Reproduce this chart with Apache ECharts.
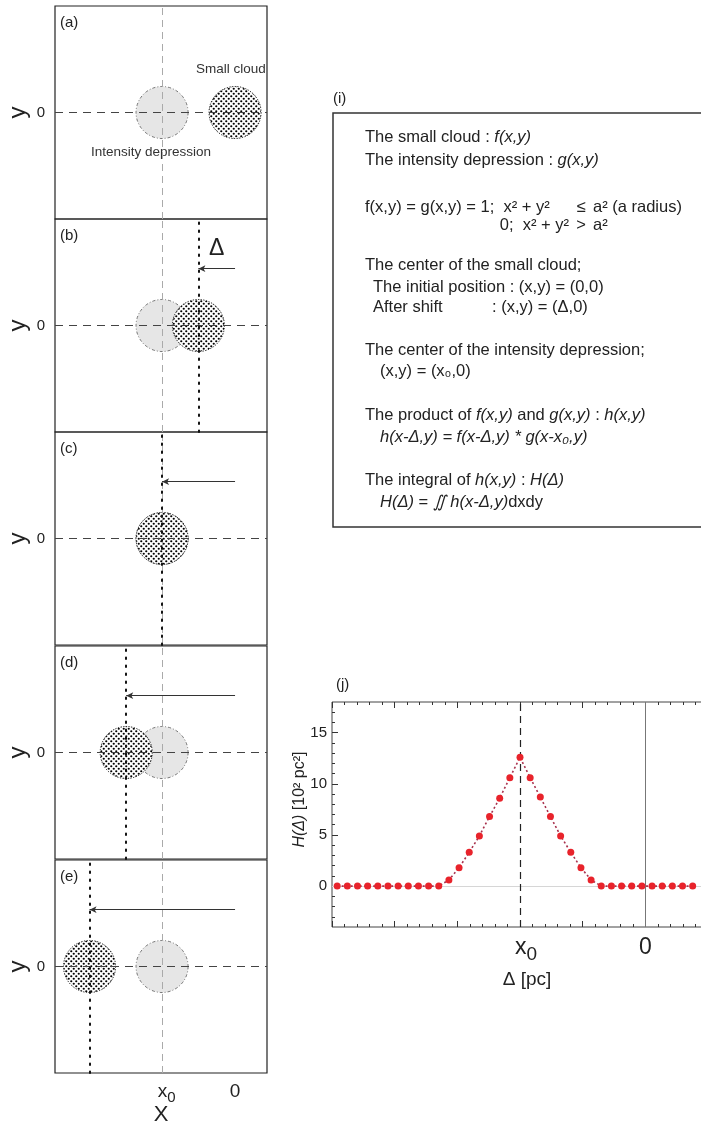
<!DOCTYPE html>
<html><head><meta charset="utf-8">
<script src="https://cdn.jsdelivr.net/npm/echarts@6/dist/echarts.min.js"></script>
<style>html,body{margin:0;padding:0;background:#fff}#c{width:701px;height:1127px}</style>
</head><body><div id="c"></div>
<script>
// ---------------- data ----------------
const panelLabels = ['(a)', '(b)', '(c)', '(d)', '(e)'];
const x0 = -61.7;                               // centre of the intensity depression [pc]
const cloudRadius = 22;                         // schematic radius of both discs [pc]
const cloudShift = [0, -31, -61.7, -92, -123];  // centre of the small cloud in panels a-e [pc]
const arrowLevel = 48;                          // height of the shift arrow [pc]
// panel (j): shift relative to x0 [pc] and H(Δ) [10^2 pc^2]
const deltaOffset = [-90, -85, -80, -75, -70, -65, -60, -55, -50, -45, -40, -35, -30, -25, -20, -15, -10, -5,
                     0, 5, 10, 15, 20, 25, 30, 35, 40, 45, 50, 55, 60, 65, 70, 75, 80, 85];
const hValues = [0, 0, 0, 0, 0, 0, 0, 0, 0, 0, 0, 0.6, 1.8, 3.3, 4.9, 6.8, 8.6, 10.6,
                 12.6, 10.6, 8.7, 6.8, 4.9, 3.3, 1.8, 0.6, 0, 0, 0, 0, 0, 0, 0, 0, 0, 0];
const hYTicks = [0, 5, 10, 15];
const hYMinorTicks = [-3, -2, -1, 1, 2, 3, 4, 6, 7, 8, 9, 11, 12, 13, 14, 16, 17];
const xTickLabels = {x0: 'x', sub: '0', zero: '0'};

// ---------------- styling helpers ----------------
const FF = "'Liberation Sans', Arial, sans-serif";
const INK = '#222';
function dotPattern() {
  const c = document.createElement('canvas');
  c.width = 5; c.height = 5;
  const g = c.getContext('2d');
  g.fillStyle = '#fff'; g.fillRect(0, 0, 5, 5);
  g.fillStyle = '#000';
  [[1.25, 1.25], [3.75, 3.75]].forEach(p => { g.beginPath(); g.arc(p[0], p[1], 1.1, 0, Math.PI * 2); g.fill(); });
  return c;
}
const PAT = dotPattern();

const panelTops = [6, 219, 432, 646, 860];
const grids = [], xAxes = [], yAxes = [], series = [], graphics = [];

function x0Formatter(v) {
  if (Math.abs(v - x0) < 0.05) return '{p|}{x|' + xTickLabels.x0 + '}{s|' + xTickLabels.sub + '}';
  if (Math.abs(v) < 0.05) return '{x|' + xTickLabels.zero + '}';
  return '';
}
const noLine = {show: false, onZero: false};

panelTops.forEach((top, i) => {
  grids.push({left: 55, top: top, width: 212, height: 213, show: true, borderColor: INK, borderWidth: 1.2,
    backgroundColor: 'transparent', outerBoundsMode: 'none', containLabel: false});
  const last = i === panelTops.length - 1;
  xAxes.push({
    gridIndex: i, type: 'value', min: -152.2, max: 27,
    axisLine: noLine, axisTick: {show: false}, splitLine: {show: false},
    axisLabel: last ? {
      show: true, customValues: [x0, 0], formatter: x0Formatter, margin: 9, color: INK,
      rich: {
        p: {width: 9, fontSize: 15, lineHeight: 20, verticalAlign: 'top'},
        x: {fontSize: 19, fontFamily: FF, color: INK, verticalAlign: 'top', lineHeight: 20},
        s: {fontSize: 15, fontFamily: FF, color: INK, verticalAlign: 'top', padding: [8, 0, 0, 0], lineHeight: 16}
      }
    } : {show: false},
    name: last ? 'X' : '', nameLocation: 'middle', nameGap: 31, nameMoveOverlap: false,
    nameTextStyle: {fontSize: 22, fontFamily: FF, color: INK}
  });
  yAxes.push({
    gridIndex: i, type: 'value', min: -90, max: 90, interval: 90,
    axisLine: noLine, axisTick: {show: false}, splitLine: {show: false},
    axisLabel: {formatter: v => (v === 0 ? '0' : ''), fontSize: 15, fontFamily: FF, color: INK, margin: 10},
    name: 'y', nameLocation: 'middle', nameRotate: 90, nameGap: 25, nameMoveOverlap: false,
    nameTextStyle: {fontSize: 24, fontFamily: FF, color: INK}
  });
  // discs
  series.push({
    type: 'custom', xAxisIndex: i, yAxisIndex: i, z: 2, silent: true,
    data: [[x0, 0, cloudRadius, 0], [cloudShift[i], 0, cloudRadius, 1]],
    renderItem: function (params, api) {
      const c = api.coord([api.value(0), api.value(1)]);
      const r = api.size([api.value(2), 0])[0];
      const cloud = api.value(3) === 1;
      return {
        type: 'circle', shape: {cx: c[0], cy: c[1], r: r},
        style: cloud
          ? {fill: {image: PAT, repeat: 'repeat'}, stroke: '#111', lineWidth: 1, lineDash: [1.2, 1.5]}
          : {fill: '#e6e6e6', stroke: '#555', lineWidth: 0.8, lineDash: [3, 2, 1, 2]}
      };
    }
  });
  // cross-hair lines
  series.push({
    type: 'line', xAxisIndex: i, yAxisIndex: i, z: 3, data: [[x0, 0]], symbol: 'none', silent: true,
    lineStyle: {width: 0},
    markLine: {
      silent: true, symbol: ['none', 'none'], animation: false, label: {show: false},
      data: [
        {yAxis: 0, lineStyle: {color: '#444', type: [8, 6], width: 1.2}},
        {xAxis: x0, lineStyle: {color: '#aaa', type: [7, 5], width: 1}}
      ]
    }
  });
  if (i > 0) {
    // dotted line through the small cloud centre
    series.push({
      type: 'line', xAxisIndex: i, yAxisIndex: i, z: 4, data: [[cloudShift[i], 0]], symbol: 'none', silent: true,
      lineStyle: {width: 0},
      markLine: {
        silent: true, animation: false, label: {show: false}, symbol: ['none', 'none'],
        data: [{xAxis: cloudShift[i], lineStyle: {color: '#111', type: [1.6, 6.4], width: 2, cap: 'round'}}]
      }
    });
    // shift arrow
    series.push({
      type: 'line', xAxisIndex: i, yAxisIndex: i, z: 4, data: [[0, arrowLevel]], symbol: 'none', silent: true,
      lineStyle: {width: 0},
      markLine: {
        silent: true, animation: false, label: {show: false}, symbol: ['none', 'arrow'], symbolSize: [5, 7],
        lineStyle: {color: '#333', type: 'solid', width: 1},
        data: [[{coord: [0, arrowLevel]}, {coord: [cloudShift[i], arrowLevel]}]]
      }
    });
  }
  graphics.push({type: 'text', left: 60, top: top + 9, silent: true,
    style: {text: panelLabels[i], font: '15px ' + FF, fill: INK}});
});

graphics.push({type: 'text', left: 196, top: 62, silent: true, style: {text: 'Small cloud', font: '13.5px ' + FF, fill: '#333'}});
graphics.push({type: 'text', left: 91, top: 145, silent: true, style: {text: 'Intensity depression', font: '13.5px ' + FF, fill: '#333'}});
graphics.push({type: 'text', left: 209, top: 237, silent: true, style: {text: 'Δ', font: '23px ' + FF, fill: INK}});

// ---------------- panel (j) ----------------
grids.push({left: 332, top: 702, right: -7, height: 225, show: true, borderColor: '#444', borderWidth: 1,
  backgroundColor: 'transparent', outerBoundsMode: 'none', containLabel: false});
const jx = {
  gridIndex: 5, type: 'value', min: -154.25, max: 30.85, interval: 30.85,
  axisLine: noLine,
  axisTick: {show: true, inside: true, length: 6, lineStyle: {color: '#333'}},
  minorTick: {show: true, splitNumber: 5, length: 3, lineStyle: {color: '#333'}},
  splitLine: {show: false}, minorSplitLine: {show: false}
};
xAxes.push(Object.assign({}, jx, {
  position: 'bottom',
  axisLabel: {
    formatter: x0Formatter, margin: 9, color: INK,
    rich: {
      p: {width: 12, fontSize: 19, lineHeight: 24, verticalAlign: 'top'},
      x: {fontSize: 23, fontFamily: FF, color: INK, verticalAlign: 'top', lineHeight: 24},
      s: {fontSize: 19, fontFamily: FF, color: INK, verticalAlign: 'top', padding: [9, 0, 0, 0], lineHeight: 20}
    }
  },
  name: 'Δ [pc]', nameLocation: 'middle', nameGap: 43, nameMoveOverlap: false,
  nameTextStyle: {fontSize: 19, fontFamily: FF, color: INK, padding: [0, 0, 0, 14]}
}));
xAxes.push(Object.assign({}, jx, {position: 'top', axisLabel: {show: false}}));
yAxes.push({
  gridIndex: 5, type: 'value', min: -4, max: 18, position: 'left',
  axisLine: noLine, splitLine: {show: false},
  axisTick: {show: true, inside: true, length: 6, customValues: hYTicks, lineStyle: {color: '#333'}},
  axisLabel: {customValues: hYTicks, fontSize: 15, fontFamily: FF, color: INK, margin: 5},
  name: '{i|H(Δ)} [10² pc²]', nameLocation: 'middle', nameRotate: 90, nameGap: 24, nameMoveOverlap: false,
  nameTextStyle: {fontSize: 16, fontFamily: FF, color: INK, padding: [0, 0, 0, 30],
    rich: {i: {fontStyle: 'italic', fontSize: 16, fontFamily: FF, color: INK}}}
});
yAxes.push({
  gridIndex: 5, type: 'value', min: -4, max: 18, position: 'left',
  axisLine: noLine, splitLine: {show: false}, axisLabel: {show: false},
  axisTick: {show: true, inside: true, length: 3, customValues: hYMinorTicks, lineStyle: {color: '#333'}}
});
series.push({
  type: 'line', xAxisIndex: 5, yAxisIndex: 5, z: 5, silent: true,
  data: deltaOffset.map((o, k) => [x0 + o, hValues[k]]),
  symbol: 'circle', symbolSize: 7,
  itemStyle: {color: '#e8232b'},
  lineStyle: {color: '#a8304c', width: 1.6, type: [2, 2.5]},
  markLine: {
    silent: true, symbol: ['none', 'none'], animation: false, label: {show: false},
    data: [
      {yAxis: 0, lineStyle: {color: '#d6d6d6', type: 'solid', width: 1}},
      {xAxis: x0, lineStyle: {color: '#222', type: [7, 5], width: 1.2}},
      {xAxis: 0, lineStyle: {color: '#777', type: 'solid', width: 1}}
    ]
  }
});
graphics.push({type: 'text', left: 336, top: 677, silent: true, style: {text: '(j)', font: '15px ' + FF, fill: INK}});

// ---------------- panel (i) : text box ----------------
graphics.push({type: 'text', left: 333, top: 91, silent: true, style: {text: '(i)', font: '15px ' + FF, fill: INK}});
graphics.push({type: 'rect', silent: true, shape: {x: 333, y: 113, width: 420, height: 414},
  style: {fill: 'none', stroke: '#333', lineWidth: 1.5}});
const FS = 16.5;
const R = {
  n: {fontSize: FS, fontFamily: FF, fontStyle: 'normal', fill: INK, color: INK},
  i: {fontSize: FS, fontFamily: FF, fontStyle: 'italic', fill: INK, color: INK}
};
const infoLines = [
  {x: 365, y: 137, t: '{n|The small cloud : }{i|f(x,y)}'},
  {x: 365, y: 160, t: '{n|The intensity depression : }{i|g(x,y)}'},
  {x: 365, y: 207, t: '{n|f(x,y) = g(x,y) = 1;  x² + y²}'},
  {x: 581, y: 207, t: '{n|≤}', align: 'center'},
  {x: 593, y: 207, t: '{n|a² (a radius)}'},
  {x: 569, y: 225, t: '{n|0;  x² + y²}', align: 'right'},
  {x: 581, y: 225, t: '{n|>}', align: 'center'},
  {x: 593, y: 225, t: '{n|a²}'},
  {x: 365, y: 265, t: '{n|The center of the small cloud;}'},
  {x: 373, y: 287, t: '{n|The initial position : (x,y) = (0,0)}'},
  {x: 373, y: 307, t: '{n|After shift}'},
  {x: 492, y: 307, t: '{n|: (x,y) = (Δ,0)}'},
  {x: 365, y: 350, t: '{n|The center of the intensity depression;}'},
  {x: 380, y: 371, t: '{n|(x,y) = (x₀,0)}'},
  {x: 365, y: 415, t: '{n|The product of }{i|f(x,y)}{n| and }{i|g(x,y)}{n| : }{i|h(x,y)}'},
  {x: 380, y: 437, t: '{i|h(x-Δ,y) = f(x-Δ,y) * g(x-x₀,y)}'},
  {x: 365, y: 480, t: '{n|The integral of }{i|h(x,y)}{n| : }{i|H(Δ)}'},
  {x: 380, y: 502, t: '{i|H(Δ)}{n| = }{i|∬ h(x-Δ,y)}{n|dxdy}'}
];
infoLines.forEach(l => {
  graphics.push({type: 'text', x: l.x, y: l.y, silent: true,
    style: {text: l.t, rich: R, font: FS + 'px ' + FF, fill: INK,
      textAlign: l.align || 'left', textVerticalAlign: 'middle'}});
});

const chart = echarts.init(document.getElementById('c'), null, {renderer: 'canvas'});
chart.setOption({
  animation: false,
  backgroundColor: '#fff',
  textStyle: {fontFamily: FF},
  grid: grids, xAxis: xAxes, yAxis: yAxes, series: series, graphic: graphics
});
</script>
</body></html>
